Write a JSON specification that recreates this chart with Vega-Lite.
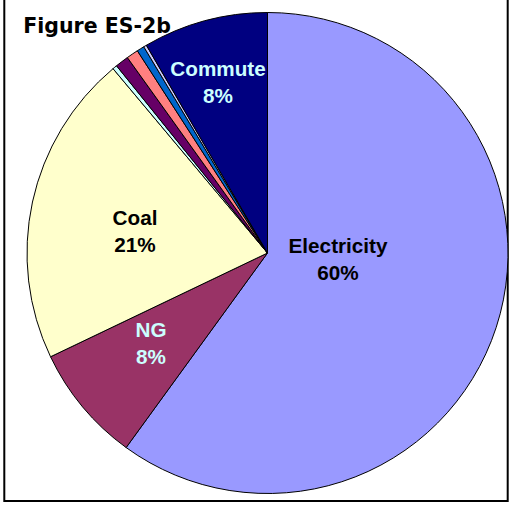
{
  "$schema": "https://vega.github.io/schema/vega-lite/v6.json",
  "width": 503.4,
  "height": 511,
  "autosize": {"type": "none"},
  "padding": {"left": 4.3, "top": -10, "right": 6.3, "bottom": 7},
  "background": "white",
  "view": {"stroke": "#000000", "strokeWidth": 2},
  "config": {"view": {"stroke": "#000000", "strokeWidth": 2}},
  "title": {
    "text": "Figure ES-2b",
    "anchor": "start",
    "frame": "group",
    "orient": "top",
    "offset": 0,
    "dx": 19,
    "dy": 63,
    "baseline": "alphabetic",
    "font": "DejaVu Sans",
    "fontSize": 20.5,
    "fontWeight": "bold",
    "color": "#000000"
  },
  "data": {
    "values": [
      {"idx": 1, "source": "Electricity", "share": 60.0},
      {"idx": 2, "source": "NG", "share": 7.9},
      {"idx": 3, "source": "Coal", "share": 21.0},
      {"idx": 4, "source": "Fuel Oil", "share": 0.3},
      {"idx": 5, "source": "Propane", "share": 0.9},
      {"idx": 6, "source": "Waste", "share": 0.8},
      {"idx": 7, "source": "Water", "share": 0.5},
      {"idx": 8, "source": "Refrigerants", "share": 0.2},
      {"idx": 9, "source": "Commute", "share": 8.4}
    ]
  },
  "transform": [
    {"calculate": "datum.share >= 5 ? [datum.source, format(datum.share / 100, '.0%')] : ''", "as": "label"}
  ],
  "encoding": {
    "theta": {"field": "share", "type": "quantitative", "stack": true, "scale": {"domain": [0, 100]}},
    "order": {"field": "idx", "type": "quantitative"}
  },
  "layer": [
    {
      "mark": {"type": "arc", "outerRadius": 240.5, "x": 263.2, "y": 263, "stroke": "#000000", "strokeWidth": 1},
      "encoding": {
        "color": {
          "field": "source",
          "type": "nominal",
          "sort": null,
          "legend": null,
          "scale": {
            "domain": ["Electricity", "NG", "Coal", "Fuel Oil", "Propane", "Waste", "Water", "Refrigerants", "Commute"],
            "range": ["#9999FF", "#993366", "#FFFFCC", "#CCFFFF", "#660066", "#FF8080", "#0066CC", "#CCCCFF", "#000080"]
          }
        }
      }
    },
    {
      "mark": {
        "type": "text",
        "x": 263.2,
        "y": 263,
        "font": "Liberation Sans",
        "fontSize": 20.7,
        "fontWeight": "bold",
        "lineHeight": 27,
        "align": "center",
        "baseline": "middle",
        "radius": {"expr": "datum.source === 'Electricity' ? 71 : datum.source === 'NG' ? 149 : datum.source === 'Coal' ? 134 : 178"},
        "dx": {"expr": "datum.source === 'Electricity' ? 3 : datum.source === 'NG' ? -2 : datum.source === 'Coal' ? -1.5 : -3"},
        "dy": {"expr": "datum.source === 'Electricity' ? -28.3 : datum.source === 'NG' ? -17.3 : datum.source === 'Coal' ? -5.3 : -11.6"}
      },
      "encoding": {
        "text": {"field": "label"},
        "color": {
          "condition": {"test": "datum.source === 'NG' || datum.source === 'Commute'", "value": "#CCFFFF"},
          "value": "#000000"
        }
      }
    }
  ]
}
